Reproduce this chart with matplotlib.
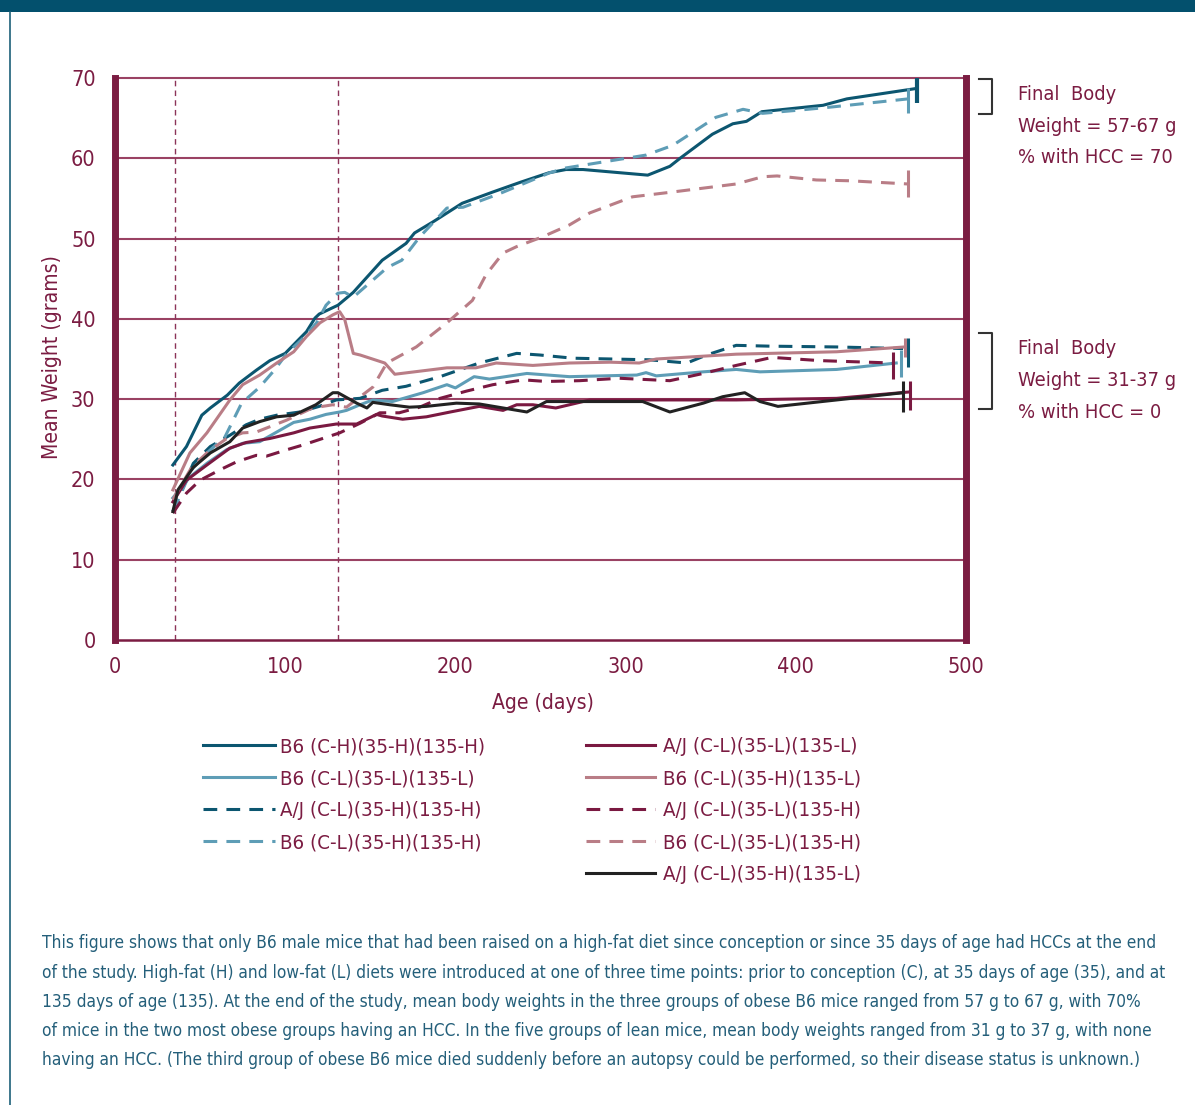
import os
import matplotlib.pyplot as plt
import matplotlib.font_manager as fm
from matplotlib.lines import Line2D
from matplotlib.patches import Rectangle

# ---- data ----
labels = [
    "B6 (C-H)(35-H)(135-H)",
    "B6 (C-L)(35-L)(135-L)",
    "A/J (C-L)(35-H)(135-H)",
    "B6 (C-L)(35-H)(135-H)",
    "A/J (C-L)(35-L)(135-L)",
    "B6 (C-L)(35-H)(135-L)",
    "A/J (C-L)(35-L)(135-H)",
    "B6 (C-L)(35-L)(135-H)",
    "A/J (C-L)(35-H)(135-L)",
]

days_b6_hhh = [34, 42, 51, 56, 66, 73, 83, 91, 100, 106, 112.5, 117.5, 120, 131, 140, 157, 171, 176,
               187, 204, 222, 238, 255, 265, 275, 313, 326, 332, 351, 363, 371, 380, 416, 430, 471]
wt_b6_hhh = [21.8, 24.1, 28.0, 28.9, 30.5, 32.0, 33.6, 34.8, 35.7, 37.0, 38.4, 40.1, 40.6, 41.7, 43.3,
             47.3, 49.4, 50.7, 52.1, 54.4, 55.8, 57.0, 58.2, 58.6, 58.6, 57.9, 59.0, 60.0, 63.0, 64.3,
             64.6, 65.8, 66.6, 67.4, 68.7]

days_b6_lll = [34, 44, 54, 65.6, 75, 85, 95, 105, 114.5, 124, 132, 136, 144, 151.5, 163, 181, 195, 200,
               211, 220, 242, 267, 306.5, 312, 318, 345.6, 365, 379, 424, 459]
wt_b6_lll = [17.7, 20.3, 22.0, 23.7, 24.5, 24.7, 25.9, 27.1, 27.5, 28.1, 28.4, 28.6, 29.3, 29.9, 29.7,
             30.8, 31.8, 31.4, 32.8, 32.5, 33.2, 32.8, 33.0, 33.3, 32.9, 33.4, 33.7, 33.4, 33.7, 34.5]

days_aj_lhh = [34, 46, 56, 67.5, 77, 85, 95, 108.6, 120, 130, 144, 157, 171, 191, 214, 236, 249.5, 269,
               314, 336, 347.6, 365, 384.6, 424, 463]
wt_aj_lhh = [16.0, 22.0, 24.1, 25.5, 26.8, 27.5, 28.0, 28.4, 29.1, 29.9, 30.1, 31.1, 31.6, 32.8, 34.5,
             35.7, 35.5, 35.1, 34.9, 34.5, 35.5, 36.7, 36.6, 36.5, 36.3]

days_b6_lhh = [34, 45, 54, 64.6, 74.4, 85, 94, 101, 110.6, 118.4, 124, 131, 135, 140, 160, 168.5, 179,
               195, 204.5, 226, 255.5, 265, 312, 327.6, 353, 369, 380.5, 402, 421.6, 466]
wt_b6_lhh = [16.0, 21.2, 23.3, 25.3, 29.5, 31.5, 33.7, 35.7, 37.6, 39.5, 41.7, 43.2, 43.3, 42.7, 46.4,
             47.3, 50.2, 53.8, 53.9, 55.6, 58.2, 58.8, 60.4, 61.6, 65.1, 66.1, 65.6, 66.0, 66.4, 67.4]

days_aj_lll = [34, 42, 54, 67.5, 77, 91, 105, 114.5, 130, 142, 153.7, 157, 169, 183, 197, 214, 228, 236,
               245.5, 259, 279, 310, 365, 424, 467]
wt_aj_lll = [17.2, 19.9, 21.8, 23.9, 24.6, 25.1, 25.8, 26.4, 26.9, 26.9, 28.1, 27.9, 27.5, 27.8, 28.4,
             29.1, 28.6, 29.3, 29.3, 28.9, 29.9, 29.9, 29.9, 30.1, 30.9]

days_b6_lhl = [34, 44, 54, 67.5, 75, 85, 95, 105, 112.5, 120.4, 128, 132, 135, 140, 144, 158.5, 164.4,
               195, 212, 224, 245.5, 267, 291, 308, 318, 365, 424, 464]
wt_b6_lhl = [18.7, 23.3, 25.8, 29.9, 31.8, 33.0, 34.5, 35.9, 37.8, 39.5, 40.5, 40.9, 39.9, 35.7, 35.5,
             34.5, 33.1, 33.9, 33.9, 34.5, 34.2, 34.5, 34.6, 34.5, 35.0, 35.6, 35.9, 36.5]

days_aj_llh = [34, 42, 50, 61.7, 71.5, 83, 89, 101, 110.6, 122, 132, 144, 155.6, 167, 179, 191, 206.5,
               222, 240, 253.5, 273, 296.5, 326, 345.6, 365, 386, 414, 457]
wt_aj_llh = [15.8, 18.3, 19.9, 21.2, 22.2, 23.0, 22.9, 23.7, 24.3, 25.1, 25.8, 27.0, 28.3, 28.3, 29.0,
             30.1, 31.0, 31.8, 32.4, 32.2, 32.3, 32.6, 32.3, 33.2, 34.2, 35.2, 34.8, 34.5]

days_b6_llh = [34, 45, 55, 65, 75, 83, 101, 116, 128, 136, 151.5, 159.7, 177, 195, 210, 218, 228, 236,
               251, 267, 279, 304, 327.6, 365, 380.5, 389, 412, 431.6, 466]
wt_b6_llh = [17.5, 21.5, 23.5, 25.0, 25.8, 25.9, 27.4, 28.9, 29.3, 29.0, 31.5, 34.5, 36.5, 39.5, 42.3,
             45.5, 48.2, 49.0, 50.2, 51.7, 53.2, 55.2, 55.8, 56.8, 57.7, 57.8, 57.3, 57.2, 56.8]

days_aj_lhl = [34, 37, 46, 56, 67.5, 75, 85, 95, 105, 118, 128, 131, 142, 148, 151.5, 161.5, 173, 183,
               200.6, 214, 228, 242, 253.5, 273, 310, 326, 345.6, 357, 370, 379, 389.5, 424, 463]
wt_aj_lhl = [16.0, 18.7, 21.5, 23.3, 24.7, 26.4, 27.2, 27.8, 28.0, 29.3, 30.8, 30.8, 29.5, 28.9, 29.6,
             29.3, 29.0, 29.1, 29.5, 29.4, 28.9, 28.4, 29.7, 29.7, 29.7, 28.4, 29.5, 30.3, 30.8, 29.7,
             29.1, 29.9, 30.8]

all_days = [days_b6_hhh, days_b6_lll, days_aj_lhh, days_b6_lhh, days_aj_lll,
            days_b6_lhl, days_aj_llh, days_b6_llh, days_aj_lhl]
all_wts = [wt_b6_hhh, wt_b6_lll, wt_aj_lhh, wt_b6_lhh, wt_aj_lll,
           wt_b6_lhl, wt_aj_llh, wt_b6_llh, wt_aj_lhl]

# final-weight error bars (day, low, high)
err_day = [471, 462, 466, 466, 467, 464, 457, 466, 463]
err_lo = [66.9, 32.8, 34.0, 65.6, 28.6, 35.3, 32.5, 55.2, 28.4]
err_hi = [70.5, 36.1, 37.6, 68.7, 32.2, 37.6, 35.9, 58.5, 32.2]

diet_switch_days = [35, 131]
y_ticks = [0, 10, 20, 30, 40, 50, 60, 70]
x_ticks = [0, 100, 200, 300, 400, 500]

notes_top = ["Final  Body", "Weight = 57-67 g", "% with HCC = 70"]
notes_bottom = ["Final  Body", "Weight = 31-37 g", "% with HCC = 0"]

caption_lines = [
    "This figure shows that only B6 male mice that had been raised on a high-fat diet since conception or since 35 days of age had HCCs at the end",
    "of the study. High-fat (H) and low-fat (L) diets were introduced at one of three time points: prior to conception (C), at 35 days of age (35), and at",
    "135 days of age (135). At the end of the study, mean body weights in the three groups of obese B6 mice ranged from 57 g to 67 g, with 70%",
    "of mice in the two most obese groups having an HCC. In the five groups of lean mice, mean body weights ranged from 31 g to 37 g, with none",
    "having an HCC. (The third group of obese B6 mice died suddenly before an autopsy could be performed, so their disease status is unknown.)",
]

# ---- styles ----
DARK_TEAL = "#0c5670"
LIGHT_TEAL = "#5e9db6"
MAROON = "#7a1941"
MAUVE = "#b97d86"
BLACK = "#222222"
colors = [DARK_TEAL, LIGHT_TEAL, DARK_TEAL, LIGHT_TEAL, MAROON, MAUVE, MAROON, MAUVE, BLACK]
dashed = [False, False, True, True, False, False, True, True, False]
AXIS = "#7b1c42"
GRID = "#9a4263"
CAPTION = "#245f7a"


# pick a condensed face if one is installed, otherwise a narrow-ish sans
def pick_font():
    for f in fm.fontManager.ttflist:
        base = os.path.basename(f.fname).lower()
        if ('narrow' in base or 'condensed' in base) and f.weight in (400, 'normal', 'regular') \
                and f.style == 'normal' and 'mono' not in base and 'serif' not in base.replace('sans', ''):
            return f.name, f.stretch
    return 'Roboto', 'normal'


FAMILY, STRETCH = pick_font()
plt.rcParams['font.family'] = [FAMILY, 'DejaVu Sans']
plt.rcParams['font.stretch'] = STRETCH

W, H = 1195, 1105
fig = plt.figure(figsize=(W / 100, H / 100), dpi=100)
renderer = fig.canvas.get_renderer()


def fx(px):
    return px / W


def fy(py):
    return 1 - py / H


def text_width(text, size):
    t = fig.text(0, 0, text, fontsize=size)
    w = t.get_window_extent(renderer).width
    t.remove()
    return w


def fit_size(text, target_px, base=20):
    return base * target_px / text_width(text, base)


TICK_FS = 15.5
LEG_FS = min(16, fit_size(labels[0], 205))
NOTE_FS = min(16, fit_size(notes_top[1], 158))
widest = max(caption_lines, key=lambda s: text_width(s, 14))
CAP_FS = min(15, fit_size(widest, 1118))
LAB_FS = min(16.5, fit_size("Age (days)", 102))

ax = fig.add_axes([fx(115), fy(640), fx(966) - fx(115), fy(78) - fy(640)])
ax.set_xlim(0, 500)
ax.set_ylim(0, 70)

for y in y_ticks[1:]:
    ax.axhline(y, color=GRID, lw=1.5, zorder=1, clip_on=False)
for d in diet_switch_days:
    ax.axvline(d, color="#8c3358", lw=1.0, dashes=(4, 3), zorder=1)

line_kws = []
for i in range(len(labels)):
    kw = dict(color=colors[i], lw=2.2)
    if dashed[i]:
        kw['dashes'] = (4.5, 3)
    line_kws.append(kw)
    ax.plot(all_days[i], all_wts[i], zorder=3, label=labels[i], **kw)
    ax.vlines(err_day[i], err_lo[i], err_hi[i], color=colors[i],
              lw=3 if i == 0 else 2.2, zorder=4)

ax.spines['top'].set_visible(False)
ax.spines['left'].set_linewidth(5)
ax.spines['right'].set_linewidth(5)
ax.spines['bottom'].set_linewidth(1.8)
for s in ['left', 'right', 'bottom']:
    ax.spines[s].set_color(AXIS)

ax.set_xticks(x_ticks)
ax.set_yticks(y_ticks)
ax.tick_params(length=0, colors=AXIS, labelsize=TICK_FS)
ax.tick_params(axis='y', pad=14)
ax.tick_params(axis='x', pad=12)

fig.text(fx(52), fy(357), "Mean Weight (grams)", rotation=90, ha='center', va='center',
         color=AXIS, fontsize=LAB_FS)
fig.text(fx(543), fy(703), "Age (days)", ha='center', va='center', color=AXIS, fontsize=LAB_FS)

# legend: two columns laid out as in the original
legend_cols = [(203, 275, 280, range(0, 4)), (586, 655, 663, range(4, 9))]
row_y = [745, 777, 809, 841, 873]
for x0, x1, xt, idx in legend_cols:
    for r, i in enumerate(idx):
        fig.add_artist(Line2D([fx(x0), fx(x1)], [fy(row_y[r]), fy(row_y[r])], **line_kws[i]))
        fig.text(fx(xt), fy(row_y[r]), labels[i], ha='left', va='center_baseline',
                 color=AXIS, fontsize=LEG_FS)

# right-side notes with brackets
for top, bot in [(79, 114), (333, 409)]:
    fig.add_artist(Line2D([fx(979), fx(992), fx(992), fx(979)],
                          [fy(top), fy(top), fy(bot), fy(bot)], color="#333333", lw=1.5))
for y0, lines in [(92, notes_top), (346, notes_bottom)]:
    for k, t in enumerate(lines):
        fig.text(fx(1018), fy(y0 + 32 * k), t, ha='left', va='center_baseline',
                 color=AXIS, fontsize=NOTE_FS)

# caption
cap_y = [941, 971, 1000, 1029, 1058]
for py, t in zip(cap_y, caption_lines):
    fig.text(fx(42), fy(py), t, ha='left', va='center_baseline', color=CAPTION, fontsize=CAP_FS)

# frame: banner and left rule
fig.add_artist(Rectangle((0, fy(12)), 1, fy(0) - fy(12), color="#03506d", lw=0,
                         transform=fig.transFigure))
fig.add_artist(Line2D([fx(10), fx(10)], [0, fy(12)], color="#1d6079", lw=1.2))

fig.savefig("out.png", dpi=100)
